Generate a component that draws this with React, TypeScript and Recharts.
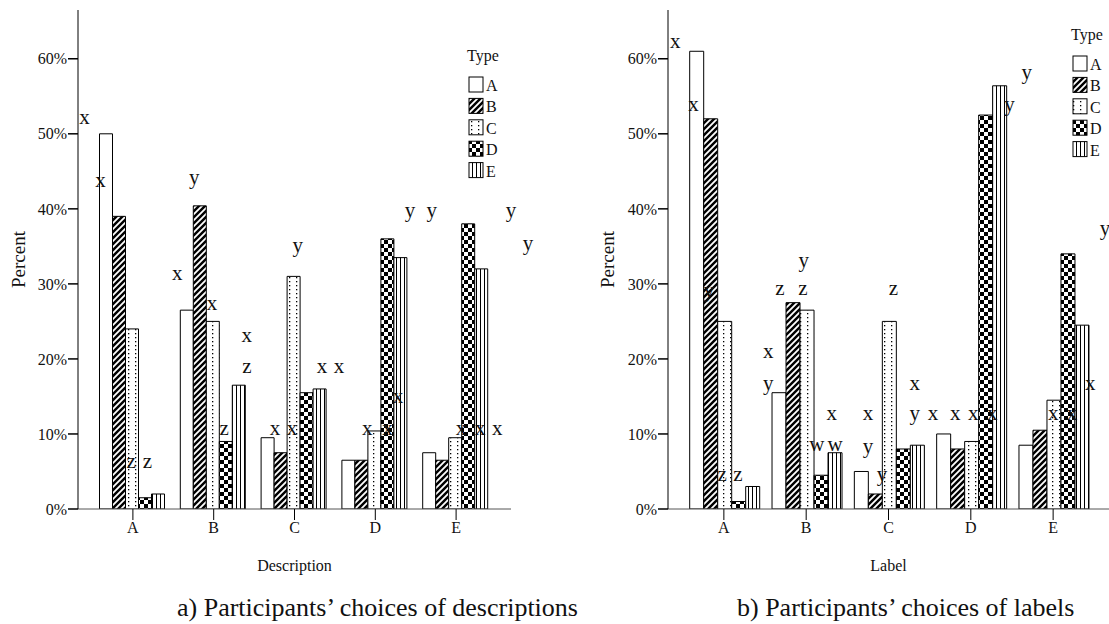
import React from 'react';
import { ComposedChart, Bar, XAxis, YAxis, ReferenceDot } from 'recharts';

const FONT = "'Liberation Serif', 'Times New Roman', serif";

const categories = ['A', 'B', 'C', 'D', 'E'];
const types = ['A', 'B', 'C', 'D', 'E'];
const yTicks = [0, 10, 20, 30, 40, 50, 60];

// a) Description — percent per type, one value per category
const descTypeA = [50, 26.5, 9.5, 6.5, 7.5];
const descTypeB = [39, 40.4, 7.5, 6.5, 6.5];
const descTypeC = [24, 25, 31, 10.4, 9.5];
const descTypeD = [1.5, 9, 15.5, 36, 38];
const descTypeE = [2, 16.5, 16, 33.5, 32];

// b) Label
const labelTypeA = [61, 15.5, 5, 10, 8.5];
const labelTypeB = [52, 27.5, 2, 8, 10.5];
const labelTypeC = [25, 26.5, 25, 9, 14.5];
const labelTypeD = [1, 4.5, 8, 52.5, 34];
const labelTypeE = [3, 7.5, 8.5, 56.4, 24.5];

// significance letters: x in category units (0 = centre of A), y in percent
const descMarks = [
  { x: -0.6, y: 51.9, t: 'x' }, { x: -0.4, y: 43.6, t: 'x' }, { x: 0.76, y: 43.9, t: 'y' },
  { x: 0.55, y: 31.2, t: 'x' }, { x: 0.98, y: 27.1, t: 'x' }, { x: 2.04, y: 34.9, t: 'y' },
  { x: 3.43, y: 39.6, t: 'y' }, { x: 3.7, y: 39.6, t: 'y' }, { x: 4.68, y: 39.6, t: 'y' },
  { x: 4.89, y: 35.2, t: 'y' }, { x: 1.41, y: 22.9, t: 'x' }, { x: 1.41, y: 18.7, t: 'z' },
  { x: -0.02, y: 6.1, t: 'z' }, { x: 0.18, y: 6.1, t: 'z' }, { x: 1.13, y: 10.5, t: 'z' },
  { x: 1.76, y: 10.5, t: 'x' }, { x: 1.97, y: 10.5, t: 'x' }, { x: 2.34, y: 18.8, t: 'x' },
  { x: 2.55, y: 18.8, t: 'x' }, { x: 3.28, y: 14.8, t: 'x' }, { x: 2.9, y: 10.5, t: 'x' },
  { x: 3.15, y: 10.5, t: 'x' }, { x: 4.06, y: 10.5, t: 'x' }, { x: 4.3, y: 10.5, t: 'x' },
  { x: 4.51, y: 10.5, t: 'x' },
];

const labelMarks = [
  { x: -0.59, y: 62.1, t: 'x' }, { x: -0.37, y: 53.6, t: 'x' }, { x: -0.18, y: 28.9, t: 'y' },
  { x: 0.97, y: 32.9, t: 'y' }, { x: 0.68, y: 29.1, t: 'z' }, { x: 0.96, y: 29.1, t: 'z' },
  { x: 3.68, y: 57.9, t: 'y' }, { x: 3.47, y: 53.6, t: 'y' }, { x: 4.63, y: 37.2, t: 'y' },
  { x: 2.06, y: 29.1, t: 'z' }, { x: 0.54, y: 20.8, t: 'x' }, { x: 0.54, y: 16.5, t: 'y' },
  { x: 1.31, y: 12.5, t: 'x' }, { x: 1.13, y: 8.3, t: 'w' }, { x: 1.35, y: 8.3, t: 'w' },
  { x: -0.02, y: 4.3, t: 'z' }, { x: 0.17, y: 4.3, t: 'z' }, { x: 1.75, y: 12.5, t: 'x' },
  { x: 1.75, y: 8.1, t: 'y' }, { x: 1.92, y: 4.3, t: 'y' }, { x: 2.32, y: 16.5, t: 'x' },
  { x: 2.32, y: 12.5, t: 'y' }, { x: 2.54, y: 12.5, t: 'x' }, { x: 2.81, y: 12.5, t: 'x' },
  { x: 3.03, y: 12.5, t: 'x' }, { x: 3.26, y: 12.5, t: 'x' }, { x: 4.0, y: 12.5, t: 'x' },
  { x: 4.23, y: 12.5, t: 'x' }, { x: 4.45, y: 16.5, t: 'x' },
];

const toRows = (series: number[][]) =>
  categories.map((cat, i) => {
    const row: Record<string, string | number> = { cat };
    types.forEach((t, j) => (row[t] = series[j][i]));
    return row;
  });

const descRows = toRows([descTypeA, descTypeB, descTypeC, descTypeD, descTypeE]);
const labelRows = toRows([labelTypeA, labelTypeB, labelTypeC, labelTypeD, labelTypeE]);

function Patterns({ id }: { id: string }) {
  return (
    <defs>
      <pattern id={`${id}-B`} width={6} height={6} patternUnits="userSpaceOnUse">
        <rect width={6} height={6} fill="#000" />
        <path d="M-1.5,1.5 L1.5,-1.5 M0,6 L6,0 M4.5,7.5 L7.5,4.5" stroke="#fff" strokeWidth={1.8} />
      </pattern>
      <pattern id={`${id}-C`} width={7} height={4} patternUnits="userSpaceOnUse">
        <rect width={7} height={4} fill="#fff" />
        <rect x={2} y={1} width={1.3} height={1.3} fill="#000" />
      </pattern>
      <pattern id={`${id}-D`} width={8} height={8} patternUnits="userSpaceOnUse">
        <rect width={8} height={8} fill="#fff" />
        <rect width={4} height={4} fill="#000" />
        <rect x={4} y={4} width={4} height={4} fill="#000" />
      </pattern>
      <pattern id={`${id}-E`} width={4} height={4} patternUnits="userSpaceOnUse">
        <rect width={4} height={4} fill="#fff" />
        <rect x={0} width={1} height={4} fill="#000" />
      </pattern>
    </defs>
  );
}

const fillFor = (id: string, t: string) => (t === 'A' ? '#fff' : `url(#${id}-${t})`);

interface PanelProps {
  id: string;
  rows: Record<string, string | number>[];
  marks: { x: number; y: number; t: string }[];
  width: number;
  yWidth: number;
  right: number;
  padX: number;
  band: number;
  xTitle: string;
  yTitleX: number;
}

function Panel({ id, rows, marks, width, yWidth, right, padX, band, xTitle, yTitleX }: PanelProps) {
  const markPad = padX + band / 2;
  return (
    <ComposedChart
      width={width}
      height={624}
      data={rows}
      margin={{ top: 10, right, bottom: 53, left: 0 }}
      barCategoryGap={7}
      barGap={0}
    >
      <Patterns id={id} />
      <XAxis
        xAxisId="c"
        dataKey="cat"
        interval={0}
        height={62}
        padding={{ left: padX, right: padX }}
        tickSize={11}
        tickMargin={2}
        tickLine={{ stroke: '#000' }}
        axisLine={{ stroke: '#555' }}
        tick={{ fill: '#111', fontSize: 16, fontFamily: FONT }}
        label={{
          content: ({ viewBox }: any) => (
            <text x={viewBox.x + viewBox.width / 2} y={viewBox.y + 62} textAnchor="middle" fontSize={16} fontFamily={FONT} fill="#111">
              {xTitle}
            </text>
          ),
        }}
      />
      <XAxis xAxisId="u" type="number" domain={[0, 4]} padding={{ left: markPad, right: markPad }} allowDataOverflow hide />
      <YAxis
        domain={[0, 66.5]}
        ticks={yTicks}
        width={yWidth}
        allowDataOverflow
        tickSize={10}
        tickMargin={1}
        tickFormatter={(v: number) => `${v}%`}
        tickLine={{ stroke: '#000', strokeWidth: 1.5 }}
        axisLine={{ stroke: '#000' }}
        tick={{ fill: '#111', fontSize: 16, fontFamily: FONT }}
        label={{
          content: ({ viewBox }: any) => {
            const cx = viewBox.x + yTitleX;
            const cy = viewBox.y + viewBox.height / 2;
            return (
              <text x={cx} y={cy} transform={`rotate(-90 ${cx} ${cy})`} textAnchor="middle" dominantBaseline="central" fontSize={19} fontFamily={FONT} fill="#111">
                Percent
              </text>
            );
          },
        }}
      />
      {types.map((t) => (
        <Bar key={t} xAxisId="c" dataKey={t} fill={fillFor(id, t)} stroke="#000" strokeWidth={1} isAnimationActive={false} />
      ))}
      {marks.map((m, i) => (
        <ReferenceDot
          key={i}
          xAxisId="u"
          x={m.x}
          y={m.y}
          ifOverflow="visible"
          shape={(p: any) => (
            <text x={p.cx} y={p.cy + 4.7} textAnchor="middle" fontSize={21} fontFamily={FONT} fill="#111">
              {m.t}
            </text>
          )}
        />
      ))}
    </ComposedChart>
  );
}

function LegendBox({ id, x, y }: { id: string; x: number; y: number }) {
  return (
    <g>
      <text x={x - 2} y={y - 16} fontSize={16} fontFamily={FONT} fill="#111">Type</text>
      {types.map((t, i) => (
        <g key={t}>
          <rect x={x} y={y + i * 21.4} width={14} height={15} fill={fillFor(id, t)} stroke="#000" strokeWidth={1} />
          <text x={x + 17} y={y + i * 21.4 + 14} fontSize={16} fontFamily={FONT} fill="#111">{t}</text>
        </g>
      ))}
    </g>
  );
}

export default function App() {
  return (
    <div style={{ position: 'fixed', left: 0, top: 0, width: 1109, height: 624, overflow: 'hidden', background: '#fff' }}>
      <div style={{ position: 'absolute', left: 0, top: 0 }}>
        <Panel id="pa" rows={descRows} marks={descMarks} width={560} yWidth={78} right={49} padX={14.5} band={80.8} xTitle="Description" yTitleX={18} />
      </div>
      <div style={{ position: 'absolute', left: 560, top: 0 }}>
        <Panel id="pb" rows={labelRows} marks={labelMarks} width={549} yWidth={108} right={0} padX={14.7} band={82.3} xTitle="Label" yTitleX={47} />
      </div>
      <svg width={1109} height={624} style={{ position: 'absolute', left: 0, top: 0, pointerEvents: 'none' }}>
        <Patterns id="lg" />
        <LegendBox id="lg" x={469} y={77} />
        <LegendBox id="lg" x={1073} y={56} />
        <text x={177} y={616} fontSize={26} fontFamily={FONT} fill="#111">a) Participants’ choices of descriptions</text>
        <text x={737} y={616} fontSize={26} fontFamily={FONT} fill="#111">b) Participants’ choices of labels</text>
      </svg>
    </div>
  );
}
